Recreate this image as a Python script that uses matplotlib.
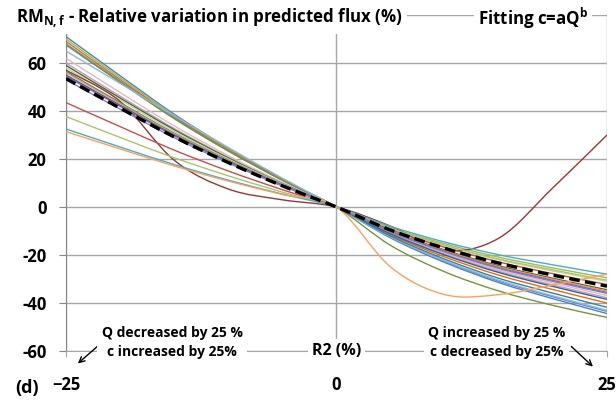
import numpy as np
import matplotlib.pyplot as plt
from matplotlib.path import Path
from matplotlib.patches import PathPatch

plt.rcParams['font.family'] = ['Open Sans', 'DejaVu Sans']
plt.rcParams['font.weight'] = 'bold'
plt.rcParams['mathtext.fontset'] = 'custom'
plt.rcParams['mathtext.rm'] = 'Open Sans:bold'
plt.rcParams['mathtext.bf'] = 'Open Sans:bold'
plt.rcParams['mathtext.it'] = 'Open Sans:bold'

# R2 variation (%) at which each run was evaluated
r2 = [-25, -20, -15, -10, -5, 0, 5, 10, 15, 20, 25]

# relative variation in predicted flux (%) for every station
runs = [
    ('#4F81BD', [71, 54.7, 38.7, 24.5, 11.7, 0, -12.9, -23.1, -31.5, -38.2, -44.4]),
    ('#9BBB59', [70, 53.9, 38.2, 24.2, 11.6, 0, -8.6, -15.3, -20.9, -25.4, -29.5]),
    ('#E46C0A', [69, 53.1, 37.6, 23.8, 11.4, 0, -11.6, -20.8, -28.4, -34.4, -40]),
    ('#558ED5', [68, 52.4, 37.1, 23.5, 11.2, 0, -12.6, -22.6, -30.9, -37.4, -43.5]),
    ('#77933C', [67.5, 52, 36.8, 23.3, 11.1, 0, -16, -27, -35, -41, -46]),
    ('#95B3D7', [65, 51.5, 38, 24.8, 12, 0, -12.5, -22.4, -30.5, -37, -43]),
    ('#E6B9B8', [62, 47.7, 33.8, 21.4, 10.2, 0, -10.7, -19.2, -26.2, -31.7, -36.9]),
    ('#B3A2C7', [60, 46.2, 32.7, 20.7, 9.9, 0, -11, -19.7, -26.8, -32.5, -37.8]),
    ('#4F6228', [59, 45.4, 32.2, 20.4, 9.7, 0, -10, -17.9, -24.5, -29.7, -34.5]),
    ('#C3D69B', [58, 44.7, 31.6, 20, 9.6, 0, -9, -16.1, -22, -26.7, -31]),
    ('#953735', [57, 44, 19.5, 7.5, 3, 0, -8, -18, -13, 8, 30]),
    ('#31859C', [56.5, 43.5, 30.8, 19.5, 9.3, 0, -12.1, -21.7, -29.7, -35.9, -41.8]),
    ('#F79646', [56, 43.1, 30.5, 19.3, 9.2, 0, -10.2, -18.2, -24.9, -30.1, -35]),
    ('#376092', [55, 42.4, 30, 19, 9.1, 0, -11.2, -20, -27.3, -33.1, -38.5]),
    ('#8064A2', [54.5, 42, 29.7, 18.8, 9, 0, -10.3, -18.5, -25.3, -30.6, -35.6]),
    ('#7F7FCF', [53, 40.8, 28.9, 18.3, 8.7, 0, -10.4, -18.7, -25.6, -31, -36]),
    ('#C0504D', [43.5, 33.5, 23.7, 15, 7.2, 0, -9.4, -16.8, -22.9, -27.8, -32.3]),
    ('#A9C46C', [37.7, 29, 20.5, 13, 6.2, 0, -8.8, -15.9, -21.7, -26.2, -30.5]),
    ('#4BACC6', [32.5, 25, 17.7, 11.2, 5.4, 0, -8.1, -14.6, -19.9, -24.1, -28]),
    ('#FAA060', [31.4, 24.2, 17.1, 10.8, 5.2, 0, -25, -36.5, -36.5, -32.5, -28]),
]

# mean over all stations
mean_run = [53.5, 41.2, 29.2, 18.5, 8.8, 0, -9.6, -17.2, -23.4, -28.4, -33]

y_ticks = [-60, -40, -20, 0, 20, 40, 60, 80]
x_ticks = [-25, 0, 25]


def smooth_path(x, y):
    # cubic bezier through the points, like a smoothed spreadsheet line
    p = np.column_stack([x, y]).astype(float)
    n = len(p)
    verts = [p[0]]
    codes = [Path.MOVETO]
    for i in range(n - 1):
        p0 = p[i - 1] if i > 0 else p[i]
        p3 = p[i + 2] if i + 2 < n else p[i + 1]
        c1 = p[i] + (p[i + 1] - p0) / 6
        c2 = p[i + 1] - (p3 - p[i]) / 6
        verts += [c1, c2, p[i + 1]]
        codes += [Path.CURVE4] * 3
    return Path(verts, codes)


fig = plt.figure(figsize=(6.16, 4.0), dpi=100)
ax = fig.add_axes([0.1071, 0.1225, 0.8783, 0.8400])

for color, vals in runs:
    ax.add_patch(PathPatch(smooth_path(r2, vals), fill=False, edgecolor=color, lw=1.0, zorder=3))
ax.add_patch(PathPatch(smooth_path(r2, mean_run), fill=False, edgecolor='black', lw=2.4,
                       linestyle=(0, (3.2, 1.6)), zorder=4))

ax.set_xlim(-25, 25)
ax.set_ylim(-60, 80)
ax.set_xticks(x_ticks)
ax.set_yticks(y_ticks)
ax.set_yticklabels(['-60', '-40', '-20', '0', '20', '40', '60', ''])
ax.grid(True, color='#a6a6a6', lw=1.0, zorder=0)
ax.set_axisbelow(True)
for s in ['top', 'right']:
    ax.spines[s].set_visible(False)
ax.spines['left'].set_color('#868686')
ax.spines['bottom'].set_color('#a6a6a6')
ax.tick_params(axis='y', length=5, color='#868686', pad=9, labelsize=12)
ax.tick_params(axis='x', length=4, color='#a6a6a6', pad=14, labelsize=12)

box = dict(facecolor='white', edgecolor='none', pad=3)
fig.text(16 / 616, 1 - 18 / 400, 'RM$_{\\mathbf{N,f}}$ - Relative variation in predicted flux (%)',
         fontsize=12.2, ha='left', va='center', bbox=box)
fig.text(478 / 616, 1 - 18 / 400, 'Fitting c=aQ$^{\\mathbf{b}}$',
         fontsize=12.2, ha='left', va='center', bbox=box)

ax.text(0, -60, 'R2 (%)', fontsize=11.5, ha='center', va='center', bbox=box, zorder=5)
ax.text(-15.2, -56.5, 'Q decreased by 25 %\nc increased by 25%', fontsize=10,
        ha='center', va='center', linespacing=1.4, bbox=box, zorder=5)
ax.text(14.8, -56.5, 'Q increased by 25 %\nc decreased by 25%', fontsize=10,
        ha='center', va='center', linespacing=1.4, bbox=box, zorder=5)

arrow = dict(arrowstyle='->', color='black', lw=1.0, shrinkA=0, shrinkB=0)
ax.annotate('', xy=(-23.9, -65.2), xytext=(-21.9, -57.3), arrowprops=arrow, annotation_clip=False)
ax.annotate('', xy=(23.7, -66.5), xytext=(21.7, -58.1), arrowprops=arrow, annotation_clip=False)

fig.text(27 / 616, 1 - 388 / 400, '(d)', fontsize=13, ha='center', va='center')

fig.savefig('out.png', dpi=100)
